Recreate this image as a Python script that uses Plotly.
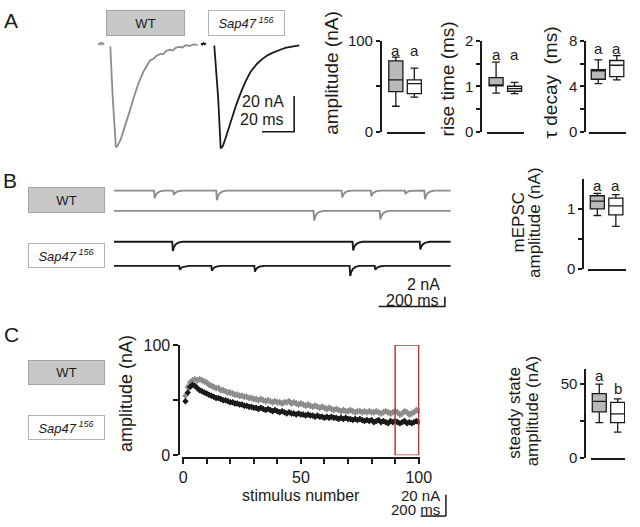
import plotly.graph_objects as go

W, H = 640, 527
FONT = "Liberation Sans, Arial, sans-serif"
INK = "#1a1a1a"
GREY_TRACE = "#8c8c8c"
BOX_GREY = "#b9b9b9"
LABEL_GREY = "#c8c8c8"
LABEL_EDGE = "#a3a3a3"
WHITE_EDGE = "#b4b4b4"
RED = "#c0393b"

# ---------------- data ----------------
GROUPS = ["WT", "Sap47"]
SAP_LABEL = "<i>Sap47</i><sup><i> 156</i></sup>"

# Panel A: evoked EPSC traces (time in ms, current in nA)
A_WT_T = [-1.8, -1.0, 0.0, 1.0, 1.8, None, 5.6, 7.1, 9.1, 10.1, 12.1, 14.1, 17.2, 20.2, 23.2,
          26.2, 30.3, 32.5, 34.4, 37.0, 38.5, 40.4, 43.0, 44.5, 46.5, 49.0, 50.5, 52.5, 55.0, 57.6, 60.0]
A_WT_I = [0.3, -0.4, 0.5, -0.3, 0.2, None, -1.6, -30.1, -58.0, -57.1, -53.5, -48.1, -39.1, -30.1, -22.0,
          -15.7, -9.4, -8.4, -6.7, -5.6, -5.9, -4.0, -3.3, -3.8, -2.2, -1.8, -2.1, -0.9, -1.2, -0.4, -0.6]
A_SAP_T = [-1.5, -0.8, 0.0, 0.8, 1.5, None, 6.7, 9.1, 10.7, 12.1, 14.1, 17.2, 20.2, 23.2, 26.2,
           29.3, 33.3, 36.5, 39.4, 42.5, 45.5, 48.5, 51.5, 54.5, 57.5, 59.6]
A_SAP_I = [0.2, -0.5, 0.4, -0.3, 0.3, None, -1.0, -30.0, -58.5, -57.1, -51.7, -42.7, -34.6, -27.4, -21.1,
           -15.7, -11.2, -8.6, -6.7, -5.3, -4.0, -3.1, -2.2, -1.6, -1.1, -0.9]

# Box statistics [WT, Sap47]
AMP = dict(lo=[28, 38], q1=[44, 42], median=[57, 53], q3=[78, 57], hi=[82, 70])
RISE = dict(lo=[0.85, 0.84], q1=[1.01, 0.89], median=[1.03, 0.95], q3=[1.19, 1.00], hi=[1.53, 1.085])
TAU = dict(lo=[4.23, 4.57], q1=[4.62, 4.85], median=[5.35, 5.85], q3=[5.47, 6.27], hi=[6.32, 6.7])
MEPSC = dict(lo=[0.89, 0.71], q1=[1.0, 0.9], median=[1.13, 1.05], q3=[1.22, 1.18], hi=[1.26, 1.24])
STEADY = dict(lo=[24, 17.5], q1=[31.2, 24.0], median=[38.3, 29.9], q3=[43.5, 37.7], hi=[50, 40])
AMP_LETTERS = ["a", "a"]
RISE_LETTERS = ["a", "a"]
TAU_LETTERS = ["a", "a"]
MEPSC_LETTERS = ["a", "a"]
STEADY_LETTERS = ["a", "b"]

# Panel B: spontaneous mEPSC events per sweep (time ms, amplitude nA)
B_SWEEP_MS = 1018
B_EVENTS = [
    [(121, 1.6), (179, 0.9), (309, 2.0), (688, 1.4), (776, 1.2), (879, 0.6), (938, 1.8)],  # WT sweep 1
    [(603, 2.0), (803, 1.8)],                                                             # WT sweep 2
    [(176, 1.9), (721, 1.8), (924, 1.6)],                                                 # Sap47 sweep 1
    [(197, 0.8), (294, 1.0), (424, 1.2), (712, 2.1), (788, 0.8)],                         # Sap47 sweep 2
]
EVENT_SHAPE_T = [0, 2, 5, 10, 18, 30]
EVENT_SHAPE_F = [0, 1.0, 0.6, 0.3, 0.1, 0]

# Panel C: train amplitudes (nA) for stimuli 1..100
STIM = list(range(1, 101))
C_WT = [54, 62, 66, 68, 69, 68, 69, 68, 67, 66,
        64, 63, 62, 61, 61, 59, 59, 58, 57, 57,
        56, 55, 55, 54, 54, 53, 53, 52, 52, 51,
        51, 50, 51, 50, 49, 50, 49, 48, 49, 48,
        48, 47, 48, 48, 49, 47, 48, 47, 46, 47,
        46, 45, 46, 45, 44, 45, 44, 43, 44, 43,
        42, 43, 42, 41, 42, 41, 40, 41, 40, 40,
        41, 40, 39, 40, 40, 39, 40, 39, 40, 39,
        39, 40, 39, 38, 39, 40, 39, 38, 39, 40,
        39, 37, 38, 40, 39, 37, 38, 39, 41, 40]
C_SAP = [49, 57, 62, 64, 63, 61, 59, 58, 57, 56,
         55, 54, 53, 52, 52, 51, 50, 50, 49, 48,
         48, 47, 47, 46, 46, 45, 45, 44, 44, 43,
         43, 42, 43, 42, 41, 42, 41, 40, 41, 40,
         39, 40, 39, 38, 39, 38, 38, 37, 38, 37,
         37, 36, 37, 36, 36, 35, 36, 35, 35, 34,
         35, 34, 35, 34, 34, 33, 34, 33, 34, 33,
         33, 32, 33, 32, 33, 32, 31, 32, 31, 32,
         30, 31, 32, 30, 31, 30, 29, 31, 30, 31,
         30, 29, 30, 31, 29, 30, 29, 30, 31, 30]
C_WT_ERR = 3.0
C_SAP_ERR = 2.5
STEADY_WINDOW = [90, 100]

# ---------------- layout helpers ----------------
def fx(p):
    return p / W

def fy(p):
    return 1 - p / H

def xdom(a, b):
    return [fx(a), fx(b)]

def ydom(top, bottom):
    return [fy(bottom), fy(top)]

fig = go.Figure()
annotations = []
shapes = []

def text(x, y, s, size=15, angle=0, xanchor="center", yanchor="middle", xref="paper", yref="paper", paper=True):
    annotations.append(dict(
        x=fx(x) if paper else x, y=fy(y) if paper else y, xref=xref, yref=yref,
        text=s, showarrow=False, textangle=angle, xanchor=xanchor, yanchor=yanchor,
        font=dict(family=FONT, size=size, color=INK)))

def label_box(cx, cy, w, h, s, fill, edge):
    annotations.append(dict(
        x=fx(cx), y=fy(cy), xref="paper", yref="paper", text=s, showarrow=False,
        xanchor="center", yanchor="middle",
        width=w - 2, height=h - 2, bgcolor=fill, bordercolor=edge, borderwidth=1, borderpad=0,
        align="center", valign="middle", font=dict(family=FONT, size=13, color=INK)))

# ---------------- Panel A traces ----------------
fig.add_trace(go.Scatter(x=A_WT_T, y=A_WT_I, mode="lines", line=dict(color=GREY_TRACE, width=1.8),
                         xaxis="x", yaxis="y", connectgaps=False, hoverinfo="skip"))
fig.add_trace(go.Scatter(x=A_SAP_T, y=A_SAP_I, mode="lines", line=dict(color=INK, width=1.8),
                         xaxis="x2", yaxis="y2", connectgaps=False, hoverinfo="skip"))
A_SCALE_MS, A_SCALE_NA = 20, 20
A_CORNER = (56.4, -49.2)
fig.add_trace(go.Scatter(x=[A_CORNER[0] - A_SCALE_MS, A_CORNER[0], A_CORNER[0]],
                         y=[A_CORNER[1], A_CORNER[1], A_CORNER[1] + A_SCALE_NA],
                         mode="lines", line=dict(color=INK, width=1.6), xaxis="x2", yaxis="y2", hoverinfo="skip"))
text(51.5, -32.4, "20 nA", size=16, xanchor="right", xref="x2", yref="y2", paper=False)
text(51.5, -42.4, "20 ms", size=16, xanchor="right", xref="x2", yref="y2", paper=False)

# ---------------- Box plots ----------------
BOX_W = 0.76

def add_boxes(stats, n, letters, letter_y):
    for i, g in enumerate(GROUPS):
        fig.add_trace(go.Box(
            x=[i], q1=[stats["q1"][i]], median=[stats["median"][i]], q3=[stats["q3"][i]],
            lowerfence=[stats["lo"][i]], upperfence=[stats["hi"][i]], width=BOX_W,
            fillcolor=BOX_GREY if i == 0 else "white", line=dict(color=INK, width=1.3),
            whiskerwidth=0.55, boxpoints=False, xaxis=f"x{n}", yaxis=f"y{n}", hoverinfo="skip", name=g))
        text(i, letter_y[i], letters[i], size=15, xref=f"x{n}", yref=f"y{n}", paper=False)

add_boxes(AMP, 3, AMP_LETTERS, [89, 89])
add_boxes(RISE, 4, RISE_LETTERS, [1.69, 1.69])
add_boxes(TAU, 5, TAU_LETTERS, [7.34, 7.34])
add_boxes(MEPSC, 7, MEPSC_LETTERS, [1.39, 1.39])
add_boxes(STEADY, 9, STEADY_LETTERS, [55.8, 46.8])

# ---------------- Panel B traces ----------------
B_ROW_OFFSETS = [15.6, 11.4, 5.0, 0.0]
B_ROW_COLORS = [GREY_TRACE, GREY_TRACE, INK, INK]
for events, off, col in zip(B_EVENTS, B_ROW_OFFSETS, B_ROW_COLORS):
    xs, ys = [0], [off]
    for t, a in events:
        for dt, f in zip(EVENT_SHAPE_T, EVENT_SHAPE_F):
            xs.append(t + dt)
            ys.append(off - a * f)
    xs.append(B_SWEEP_MS)
    ys.append(off)
    fig.add_trace(go.Scatter(x=xs, y=ys, mode="lines", line=dict(color=col, width=1.9),
                             xaxis="x6", yaxis="y6", hoverinfo="skip"))
B_SCALE_MS, B_SCALE_NA = 200, 2
B_CORNER = (1000, -8.4)
fig.add_trace(go.Scatter(x=[B_CORNER[0] - B_SCALE_MS, B_CORNER[0], B_CORNER[0]],
                         y=[B_CORNER[1], B_CORNER[1], B_CORNER[1] + B_SCALE_NA],
                         mode="lines", line=dict(color=INK, width=1.6), xaxis="x6", yaxis="y6", hoverinfo="skip"))
text(991, -3.8, "2 nA", size=16, xanchor="right", xref="x6", yref="y6", paper=False)
text(985, -7.2, "200 ms", size=16, xanchor="right", xref="x6", yref="y6", paper=False)

# ---------------- Panel C train ----------------
fig.add_trace(go.Scatter(x=STIM, y=C_WT, mode="markers",
                         marker=dict(symbol="diamond", size=5, color=GREY_TRACE),
                         error_y=dict(type="constant", value=C_WT_ERR, color=GREY_TRACE, thickness=1, width=0),
                         xaxis="x8", yaxis="y8", hoverinfo="skip"))
fig.add_trace(go.Scatter(x=STIM, y=C_SAP, mode="markers",
                         marker=dict(symbol="diamond", size=5, color=INK),
                         error_y=dict(type="constant", value=C_SAP_ERR, color=INK, thickness=1, width=0),
                         xaxis="x8", yaxis="y8", hoverinfo="skip"))
shapes.append(dict(type="rect", xref="x8", yref="y8", x0=STEADY_WINDOW[0], x1=STEADY_WINDOW[1], y0=0, y1=100,
                   line=dict(color=RED, width=1.5), fillcolor="rgba(0,0,0,0)"))

# C scale bar (decoration)
shapes.append(dict(type="line", xref="paper", yref="paper", x0=fx(454), x1=fx(454), y0=fy(503), y1=fy(525),
                   line=dict(color=INK, width=1.5)))
shapes.append(dict(type="line", xref="paper", yref="paper", x0=fx(428), x1=fx(454), y0=fy(525), y1=fy(525),
                   line=dict(color=INK, width=1.5)))
text(450, 504, "20 nA", size=15, xanchor="right")
text(450, 518, "200 ms", size=15, xanchor="right")

# ---------------- axes ----------------
layout = dict(
    width=W, height=H, margin=dict(l=0, r=0, t=0, b=0),
    paper_bgcolor="white", plot_bgcolor="white", showlegend=False, boxmode="overlay",
    font=dict(family=FONT, color=INK),
)

hidden = dict(visible=False, fixedrange=True, showgrid=False, zeroline=False)
layout["xaxis"] = dict(hidden, domain=xdom(95, 200), range=[-3, 60.6], anchor="y")
layout["yaxis"] = dict(hidden, domain=ydom(30, 150), range=[-61.6, 3.2], anchor="x")
layout["xaxis2"] = dict(hidden, domain=xdom(200, 305), range=[-3, 60.6], anchor="y2")
layout["yaxis2"] = dict(hidden, domain=ydom(30, 150), range=[-61.6, 3.2], anchor="x2")
layout["xaxis6"] = dict(hidden, domain=xdom(113, 459), range=[0, B_SWEEP_MS], anchor="y6")
layout["yaxis6"] = dict(hidden, domain=ydom(180, 310), range=[-8.8, 17.2], anchor="x6")

def box_axes(n, xpx, ypx, ypos, xrange, yrange, tickvals, ticktext, minorvals, tsize=15):
    layout[f"xaxis{n}"] = dict(domain=xdom(*xpx), range=xrange, anchor=f"y{n}", showline=True,
                               linecolor=INK, linewidth=1.5, ticks="", showticklabels=False,
                               showgrid=False, zeroline=False, fixedrange=True)
    layout[f"yaxis{n}"] = dict(domain=ydom(*ypx), range=yrange, anchor="free", position=fx(ypos),
                               showline=True, linecolor=INK, linewidth=1.5, ticks="outside", ticklen=4,
                               tickwidth=1.5, tickcolor=INK, tickmode="array", tickvals=tickvals, ticktext=ticktext,
                               minor=dict(tickmode="array", tickvals=minorvals, ticks="outside", ticklen=4,
                                          tickwidth=1.5, tickcolor=INK, showgrid=False),
                               tickfont=dict(family=FONT, size=tsize, color=INK), showgrid=False,
                               zeroline=False, fixedrange=True)

box_axes(3, (393, 432), (33, 127), 387, [-0.5, 1.55], [0, 100], [0, 100], ["0", "100"], [50])
box_axes(4, (496, 534), (33, 127), 490, [-0.5, 1.5], [0, 2], [0, 1, 2], ["0", "1", "2"], [0.5, 1.5])
box_axes(5, (601, 639), (33, 127), 597, [-0.5, 1.5], [0, 8], [0, 4, 8], ["0", "4", "8"], [2, 6])
box_axes(7, (600, 639), (176, 269), 595, [-0.5, 1.55], [0, 1.5], [0, 1], ["0", "1"], [0.5])
box_axes(9, (603, 638), (373, 465), 597, [-0.45, 1.4], [0, 60], [0, 50], ["0", "50"], [25])

C_XLABELS = [0, 50, 100]
C_XMINOR = [10, 20, 30, 40, 60, 70, 80, 90]
layout["xaxis8"] = dict(domain=xdom(183, 427), range=[-0.4, 100.4], anchor="free", position=fy(465),
                        showline=True, linecolor=INK, linewidth=1.5, ticks="outside", ticklen=5,
                        tickwidth=1.5, tickcolor=INK, tickmode="array", tickvals=C_XLABELS,
                        ticktext=[str(v) for v in C_XLABELS],
                        minor=dict(tickmode="array", tickvals=C_XMINOR, ticks="outside", ticklen=5,
                                   tickwidth=1.5, tickcolor=INK, showgrid=False),
                        tickfont=dict(family=FONT, size=16, color=INK), showgrid=False, zeroline=False,
                        fixedrange=True)
layout["yaxis8"] = dict(domain=ydom(348, 462), range=[0, 100], anchor="free", position=fx(180),
                        showline=True, linecolor=INK, linewidth=1.5, ticks="outside", ticklen=5,
                        tickwidth=1.5, tickcolor=INK, tickmode="array", tickvals=[0, 100], ticktext=["0", "100"],
                        minor=dict(tickmode="array", tickvals=[50], ticks="outside", ticklen=5,
                                   tickwidth=1.5, tickcolor=INK, showgrid=False),
                        tickfont=dict(family=FONT, size=16, color=INK), showgrid=False, zeroline=False,
                        fixedrange=True)

# ---------------- texts ----------------
text(7.5, 12, "A", size=21)
text(6.5, 178, "B", size=21)
text(7.5, 337, "C", size=21)

label_box(145.5, 14, 79, 26, "WT", LABEL_GREY, LABEL_EDGE)
label_box(249.5, 14, 77, 26, SAP_LABEL, "white", WHITE_EDGE)
label_box(64.5, 198, 77, 26, "WT", LABEL_GREY, LABEL_EDGE)
label_box(64.5, 255, 77, 25, SAP_LABEL, "white", WHITE_EDGE)
label_box(64.5, 376.5, 77, 25, "WT", LABEL_GREY, LABEL_EDGE)
label_box(64.5, 433.5, 77, 25, SAP_LABEL, "white", WHITE_EDGE)

text(337, 66, "amplitude (nA)", size=19, angle=-90)
text(456, 72, "rise time (ms)", size=19, angle=-90)
text(561, 76, "τ decay  (ms)", size=19, angle=-90)
text(528, 221, "mEPSC", size=17, angle=-90)
text(545, 221, "amplitude (nA)", size=17, angle=-90)
text(525, 418, "steady state", size=17, angle=-90)
text(543, 416, "amplitude (nA)", size=17, angle=-90)
text(126, 398, "amplitude (nA)", size=18, angle=-90)
text(305, 504, "stimulus number", size=16)

layout["annotations"] = annotations
layout["shapes"] = shapes
fig.update_layout(**layout)
fig.write_html("out.html", config={"displayModeBar": False},
               post_script="document.body.style.margin='0px';")
